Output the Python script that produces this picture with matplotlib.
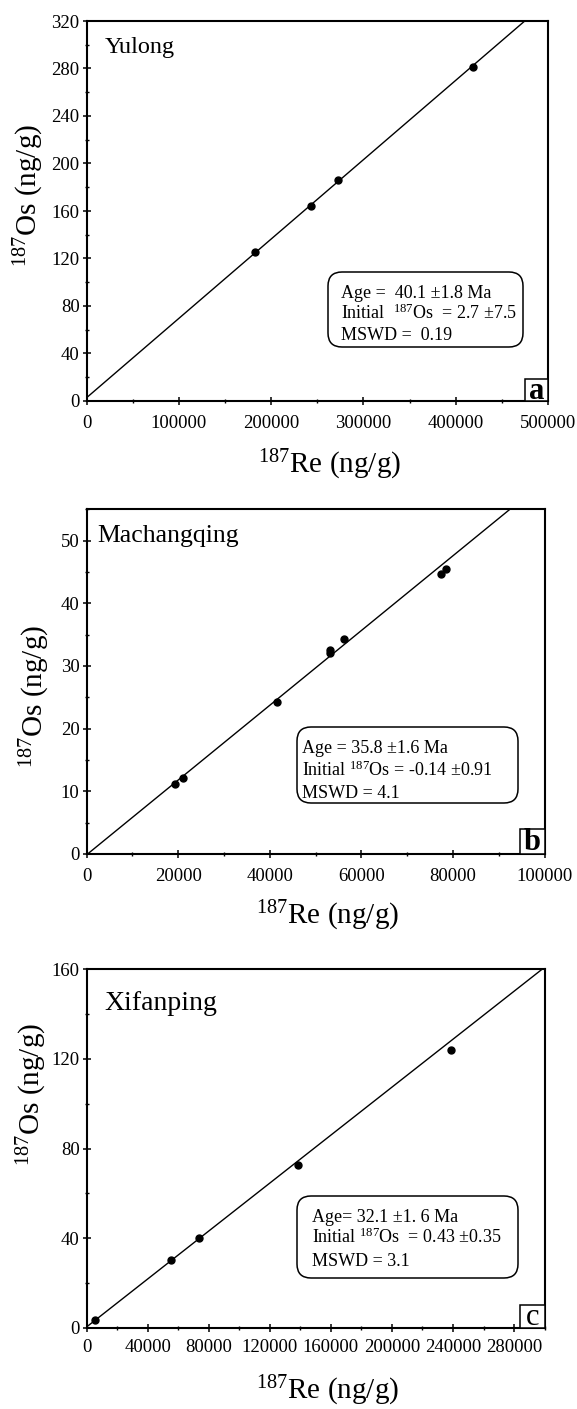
import numpy as np
import matplotlib
matplotlib.use("Agg")
import matplotlib.pyplot as plt
from matplotlib.patches import FancyBboxPatch, Rectangle
from matplotlib.ticker import MultipleLocator

plt.rcParams['font.family'] = ['Liberation Serif', 'DejaVu Serif']
plt.rcParams['mathtext.fontset'] = 'custom'
plt.rcParams['mathtext.rm'] = 'Liberation Serif'
plt.rcParams['mathtext.it'] = 'Liberation Serif:italic'
plt.rcParams['mathtext.bf'] = 'Liberation Serif:bold'

# ---------------- data ----------------
LAMBDA = 1.666e-11  # 187Re decay constant (1/yr)

yulong_re = [182800, 243600, 272800, 418400]
yulong_os = [125.5, 164.6, 186.1, 281.2]
yulong_age = 40.1
yulong_init = 2.7

mach_re = [19240, 21100, 41550, 53220, 53220, 56280, 77370, 78500]
mach_os = [11.2, 12.2, 24.3, 32.6, 32.0, 34.3, 44.6, 45.5]
mach_age = 35.8
mach_init = -0.14

xif_re = [5500, 55300, 73400, 138600, 238900]
xif_os = [3.4, 30.5, 40.3, 72.8, 124.0]
xif_age = 32.1
xif_init = 0.43

names = ["Yulong", "Machangqing", "Xifanping"]
letters = ["a", "b", "c"]
box_texts = [
    ["Age =  40.1 \u00b11.8 Ma", "Initial  $^{187}$Os  = 2.7 \u00b17.5", "MSWD =  0.19"],
    ["Age = 35.8 \u00b11.6 Ma", "Initial $^{187}$Os = -0.14 \u00b10.91", "MSWD = 4.1"],
    ["Age= 32.1 \u00b11. 6 Ma", "Initial $^{187}$Os  = 0.43 \u00b10.35", "MSWD = 3.1"],
]
xlims = [500000, 100000, 300000]
ylims = [320, 55, 160]
xmajor = [100000, 20000, 40000]
xminor = [50000, 10000, 20000]
ymajor = [40, 10, 40]
yminor = [20, 5, 20]

# ---------------- layout ----------------
W, H = 577, 1409
fig = plt.figure(figsize=(W / 100, H / 100), dpi=100)

rects_px = [  # left, top, right, bottom in pixels
    (86.5, 21.0, 548.0, 401.0),
    (86.5, 509.3, 544.6, 854.0),
    (86.5, 969.3, 544.6, 1328.0),
]
name_pos = [(0.040, 0.917, 17.5), (0.024, 0.906, 18.5), (0.040, 0.887, 20)]
box_px = [  # left, top, right, bottom in pixels
    (328, 272, 523, 347),
    (297, 727, 518, 803),
    (297, 1196, 518, 1278),
]
text_left_px = [341, 302, 312]
line_base_px = [
    (297.5, 319.0, 340.5),
    (753.0, 776.0, 798.0),
    (1222.0, 1243.0, 1266.0),
]
letter_px = [(22.7, 21.7, 'bold'), (25.0, 25.0, 'bold'), (24.6, 22.7, 'normal')]
ylabel_xy = [(-0.087, 0.54), (-0.076, 0.456), (-0.081, 0.65)]
xlabel_y = [-0.122, -0.130, -0.128]
xtick_pad = [7, 7, 5]

datasets = [
    (yulong_re, yulong_os, yulong_age, yulong_init),
    (mach_re, mach_os, mach_age, mach_init),
    (xif_re, xif_os, xif_age, xif_init),
]

for i, (re_, os_, age, init) in enumerate(datasets):
    l, t, r, b = rects_px[i]
    ax = fig.add_axes([l / W, 1 - b / H, (r - l) / W, (b - t) / H])
    aw, ah = r - l, b - t

    slope = np.exp(LAMBDA * age * 1e6) - 1
    xs = np.array([0, xlims[i]])
    ax.plot(xs, init + slope * xs, color='black', lw=1.0, zorder=2)
    ax.plot(re_, os_, 'o', color='black', ms=5, zorder=3)

    ax.set_xlim(0, xlims[i])
    ax.set_ylim(0, ylims[i])
    ax.xaxis.set_major_locator(MultipleLocator(xmajor[i]))
    ax.xaxis.set_minor_locator(MultipleLocator(xminor[i]))
    ax.yaxis.set_major_locator(MultipleLocator(ymajor[i]))
    ax.yaxis.set_minor_locator(MultipleLocator(yminor[i]))
    ax.tick_params(which='major', direction='inout', length=6, width=1.1,
                   labelsize=13.5)
    ax.tick_params(which='minor', direction='inout', length=3, width=1.0)
    ax.tick_params(axis='x', which='major', pad=xtick_pad[i])
    ax.tick_params(axis='y', which='major', pad=2)
    for sp in ax.spines.values():
        sp.set_linewidth(1.5)

    ax.set_xlabel(r'$^{187}$Re (ng/g)', fontsize=21)
    ax.set_ylabel(r'$^{187}$Os (ng/g)', fontsize=21)
    ax.xaxis.set_label_coords(0.5 + 12 / aw, xlabel_y[i])
    ax.yaxis.set_label_coords(*ylabel_xy[i])

    nx, ny, nfs = name_pos[i]
    ax.text(nx, ny, names[i], transform=ax.transAxes, fontsize=nfs,
            ha='left', va='baseline')

    # rounded statistics box
    bl, bt, br, bb = box_px[i]
    x0 = (bl - l) / aw
    x1 = (br - l) / aw
    y0 = 1 - (bb - t) / ah
    y1 = 1 - (bt - t) / ah
    patch = FancyBboxPatch((x0, y0), x1 - x0, y1 - y0,
                           boxstyle="round,pad=0,rounding_size=%f" % (14 / aw),
                           mutation_aspect=aw / ah,
                           transform=ax.transAxes, fc='white', ec='black',
                           lw=1.1, zorder=4)
    ax.add_patch(patch)
    tx = (text_left_px[i] - l) / aw
    for line, ypx in zip(box_texts[i], line_base_px[i]):
        ax.text(tx, 1 - (ypx - t) / ah, line, transform=ax.transAxes,
                fontsize=13, ha='left', va='baseline', zorder=5)

    # corner letter box
    lw_, lh_, fw = letter_px[i]
    rw, rh = lw_ / aw, lh_ / ah
    ax.add_patch(Rectangle((1 - rw, 0), rw, rh, transform=ax.transAxes,
                           fc='white', ec='black', lw=1.1, zorder=4))
    ax.text(1 - rw / 2, rh * 0.45, letters[i], transform=ax.transAxes,
            fontsize=22, fontweight=fw, ha='center', va='center', zorder=5)

fig.savefig('out.png', dpi=100)
